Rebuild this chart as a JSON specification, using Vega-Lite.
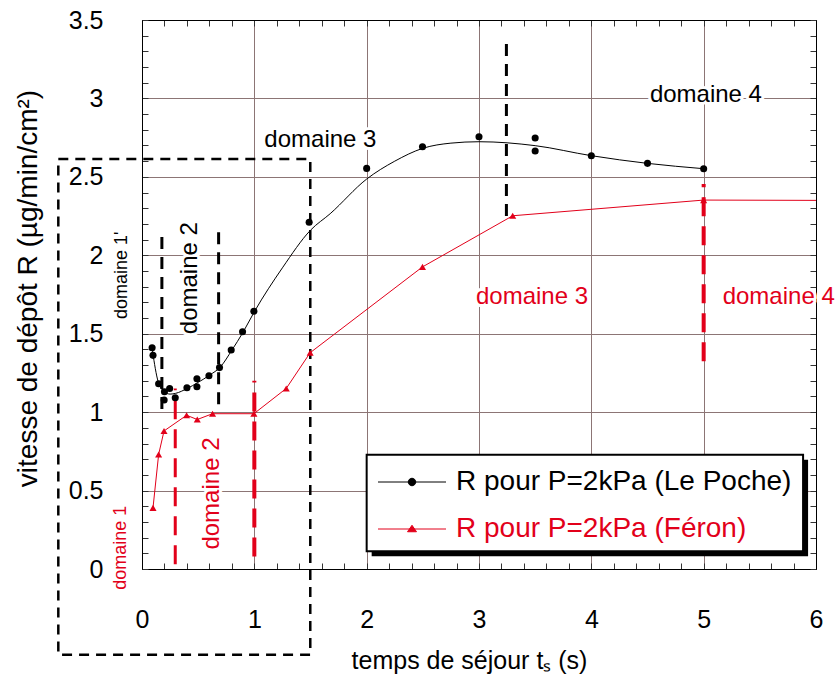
{
  "$schema": "https://vega.github.io/schema/vega-lite/v6.json",
  "width": 674,
  "height": 549,
  "autosize": "none",
  "padding": {"left": 142, "top": 20, "right": 20, "bottom": 115},
  "background": "white",
  "config": {
    "font": "Liberation Sans",
    "view": {"stroke": "black", "strokeWidth": 1},
    "axis": {"labelFont": "Liberation Sans", "titleFont": "Liberation Sans", "titleFontWeight": "normal"}
  },
  "datasets": {
    "lepoche_points": [
      {"t": 0.09, "R": 1.41}, {"t": 0.098, "R": 1.362}, {"t": 0.148, "R": 1.181},
      {"t": 0.2, "R": 1.13}, {"t": 0.197, "R": 1.077}, {"t": 0.246, "R": 1.151},
      {"t": 0.296, "R": 1.092}, {"t": 0.4, "R": 1.156}, {"t": 0.489, "R": 1.213},
      {"t": 0.489, "R": 1.162}, {"t": 0.596, "R": 1.232}, {"t": 0.69, "R": 1.284},
      {"t": 0.794, "R": 1.396}, {"t": 0.895, "R": 1.513}, {"t": 0.996, "R": 1.643},
      {"t": 1.488, "R": 2.211}, {"t": 2.0, "R": 2.554}, {"t": 2.497, "R": 2.692},
      {"t": 3.0, "R": 2.756}, {"t": 3.5, "R": 2.748}, {"t": 3.5, "R": 2.665},
      {"t": 4.0, "R": 2.635}, {"t": 4.5, "R": 2.586}, {"t": 5.0, "R": 2.552}
    ],
    "lepoche_courbe": [
      {"t": 0.09, "R": 1.41, "serie": "R pour P=2kPa (Le Poche)"},
      {"t": 0.1, "R": 1.36, "serie": "R pour P=2kPa (Le Poche)"},
      {"t": 0.15, "R": 1.18, "serie": "R pour P=2kPa (Le Poche)"},
      {"t": 0.2, "R": 1.13, "serie": "R pour P=2kPa (Le Poche)"},
      {"t": 0.25, "R": 1.115, "serie": "R pour P=2kPa (Le Poche)"},
      {"t": 0.3, "R": 1.12, "serie": "R pour P=2kPa (Le Poche)"},
      {"t": 0.4, "R": 1.15, "serie": "R pour P=2kPa (Le Poche)"},
      {"t": 0.5, "R": 1.19, "serie": "R pour P=2kPa (Le Poche)"},
      {"t": 0.6, "R": 1.235, "serie": "R pour P=2kPa (Le Poche)"},
      {"t": 0.7, "R": 1.29, "serie": "R pour P=2kPa (Le Poche)"},
      {"t": 0.8, "R": 1.395, "serie": "R pour P=2kPa (Le Poche)"},
      {"t": 0.9, "R": 1.51, "serie": "R pour P=2kPa (Le Poche)"},
      {"t": 1.0, "R": 1.64, "serie": "R pour P=2kPa (Le Poche)"},
      {"t": 1.25, "R": 1.92, "serie": "R pour P=2kPa (Le Poche)"},
      {"t": 1.5, "R": 2.16, "serie": "R pour P=2kPa (Le Poche)"},
      {"t": 1.675, "R": 2.265, "serie": "R pour P=2kPa (Le Poche)"},
      {"t": 2.0, "R": 2.486, "serie": "R pour P=2kPa (Le Poche)"},
      {"t": 2.25, "R": 2.6, "serie": "R pour P=2kPa (Le Poche)"},
      {"t": 2.5, "R": 2.682, "serie": "R pour P=2kPa (Le Poche)"},
      {"t": 2.75, "R": 2.715, "serie": "R pour P=2kPa (Le Poche)"},
      {"t": 3.0, "R": 2.724, "serie": "R pour P=2kPa (Le Poche)"},
      {"t": 3.5, "R": 2.699, "serie": "R pour P=2kPa (Le Poche)"},
      {"t": 4.0, "R": 2.635, "serie": "R pour P=2kPa (Le Poche)"},
      {"t": 4.5, "R": 2.586, "serie": "R pour P=2kPa (Le Poche)"},
      {"t": 5.0, "R": 2.552, "serie": "R pour P=2kPa (Le Poche)"}
    ],
    "feron_points": [
      {"t": 0.098, "R": 0.39}, {"t": 0.148, "R": 0.73}, {"t": 0.196, "R": 0.88},
      {"t": 0.397, "R": 0.98}, {"t": 0.492, "R": 0.953}, {"t": 0.628, "R": 0.99},
      {"t": 0.996, "R": 0.99}, {"t": 1.284, "R": 1.151}, {"t": 1.497, "R": 1.379},
      {"t": 2.497, "R": 1.926}, {"t": 3.3, "R": 2.252}, {"t": 5.0, "R": 2.352}
    ],
    "feron_ligne": [
      {"t": 0.098, "R": 0.39, "serie": "R pour P=2kPa (Féron)"},
      {"t": 0.148, "R": 0.73, "serie": "R pour P=2kPa (Féron)"},
      {"t": 0.196, "R": 0.88, "serie": "R pour P=2kPa (Féron)"},
      {"t": 0.397, "R": 0.98, "serie": "R pour P=2kPa (Féron)"},
      {"t": 0.492, "R": 0.953, "serie": "R pour P=2kPa (Féron)"},
      {"t": 0.628, "R": 0.99, "serie": "R pour P=2kPa (Féron)"},
      {"t": 0.996, "R": 0.99, "serie": "R pour P=2kPa (Féron)"},
      {"t": 1.284, "R": 1.151, "serie": "R pour P=2kPa (Féron)"},
      {"t": 1.497, "R": 1.379, "serie": "R pour P=2kPa (Féron)"},
      {"t": 2.497, "R": 1.926, "serie": "R pour P=2kPa (Féron)"},
      {"t": 3.3, "R": 2.252, "serie": "R pour P=2kPa (Féron)"},
      {"t": 5.0, "R": 2.352, "serie": "R pour P=2kPa (Féron)"},
      {"t": 6.0, "R": 2.35, "serie": "R pour P=2kPa (Féron)"}
    ],
    "limites_lepoche": [
      {"t": 0.177, "R1": 1.02, "R2": 2.14},
      {"t": 0.682, "R1": 1.05, "R2": 2.17},
      {"t": 3.244, "R1": 2.25, "R2": 3.38}
    ],
    "limites_feron": [
      {"t": 0.296, "R1": 0.03, "R2": 1.15},
      {"t": 1.0, "R1": 0.08, "R2": 1.2},
      {"t": 5.0, "R1": 1.325, "R2": 2.454}
    ],
    "cadre": [{"t1": -0.745, "t2": 1.498, "R1": -0.547, "R2": 2.614}],
    "boite_legende": [{"t1": 2.0, "t2": 5.885, "R1": 0.113, "R2": 0.729}],
    "annotations": [
      {"label": "domaine 1'", "t": -0.178, "R": 1.873, "serie": "Le Poche"},
      {"label": "domaine 2", "t": 0.43, "R": 1.854, "serie": "Le Poche"},
      {"label": "domaine 3", "t": 1.588, "R": 2.735, "serie": "Le Poche"},
      {"label": "domaine 4", "t": 5.02, "R": 3.022, "serie": "Le Poche"},
      {"label": "domaine 1", "t": -0.183, "R": 0.136, "serie": "Féron"},
      {"label": "domaine 2", "t": 0.621, "R": 0.481, "serie": "Féron"},
      {"label": "domaine 3", "t": 3.472, "R": 1.733, "serie": "Féron"},
      {"label": "domaine 4", "t": 5.668, "R": 1.733, "serie": "Féron"}
    ]
  },
  "resolve": {"axis": {"x": "independent", "y": "independent"}},
  "layer": [
    {
      "data": {"name": "cadre"},
      "mark": {"type": "rect", "filled": false, "stroke": "black", "strokeWidth": 2.5, "strokeDash": [10, 7]},
      "encoding": {
        "x": {
          "field": "t1", "type": "quantitative",
          "scale": {"domain": [0, 6], "nice": false, "zero": false},
          "axis": {
            "orient": "bottom",
            "title": "temps de séjour tₛ (s)",
            "titleFontSize": 25,
            "titleX": 327, "titleY": 91, "titleAlign": "center", "titleBaseline": "middle",
            "values": [0, 0.2, 0.4, 0.6, 0.8, 1, 1.2, 1.4, 1.6, 1.8, 2, 2.2, 2.4, 2.6, 2.8, 3, 3.2, 3.4, 3.6, 3.8, 4, 4.2, 4.4, 4.6, 4.8, 5, 5.2, 5.4, 5.6, 5.8, 6],
            "labelExpr": "abs(datum.value - round(datum.value)) < 0.001 ? '' + round(datum.value) : ''",
            "labelFontSize": 25, "labelColor": "black", "labelPadding": 44, "labelBaseline": "top",
            "labelOverlap": false, "labelFlush": false, "labelBound": false,
            "tickSize": -6, "tickColor": "#333333", "tickWidth": 1,
            "domainColor": "black", "domainWidth": 1,
            "grid": true, "gridColor": "#8c7575", "gridWidth": 1,
            "gridOpacity": {"condition": {"test": "abs(datum.value - round(datum.value)) < 0.001", "value": 1}, "value": 0}
          }
        },
        "x2": {"field": "t2"},
        "y": {
          "field": "R1", "type": "quantitative",
          "scale": {"domain": [0, 3.5], "nice": false, "zero": false},
          "axis": {
            "orient": "left",
            "title": "vitesse de dépôt R (µg/min/cm²)",
            "titleFontSize": 28,
            "titleX": -114, "titleY": 268, "titleAlign": "center", "titleBaseline": "middle", "titleAngle": -90,
            "values": [0, 0.1, 0.2, 0.3, 0.4, 0.5, 0.6, 0.7, 0.8, 0.9, 1, 1.1, 1.2, 1.3, 1.4, 1.5, 1.6, 1.7, 1.8, 1.9, 2, 2.1, 2.2, 2.3, 2.4, 2.5, 2.6, 2.7, 2.8, 2.9, 3, 3.1, 3.2, 3.3, 3.4, 3.5],
            "labelExpr": "abs(datum.value * 10 % 5) < 0.01 || abs(datum.value * 10 % 5) > 4.99 ? '' + round(datum.value * 10) / 10 : ''",
            "labelFontSize": 25, "labelColor": "black", "labelPadding": 45,
            "labelOverlap": false, "labelFlush": false, "labelBound": false,
            "tickSize": -6, "tickColor": "#333333", "tickWidth": 1,
            "domainColor": "black", "domainWidth": 1,
            "grid": true, "gridColor": "#8c7575", "gridWidth": 1,
            "gridOpacity": {"condition": {"test": "abs(datum.value * 10 % 5) < 0.01 || abs(datum.value * 10 % 5) > 4.99", "value": 1}, "value": 0}
          }
        },
        "y2": {"field": "R2"}
      }
    },
    {
      "data": {"name": "limites_lepoche"},
      "mark": {"type": "rule", "color": "black", "strokeWidth": 3, "strokeDash": [12, 8]},
      "encoding": {
        "x": {
          "field": "t", "type": "quantitative",
          "axis": {
            "orient": "top", "title": null, "labels": false, "grid": false,
            "values": [0, 0.2, 0.4, 0.6, 0.8, 1, 1.2, 1.4, 1.6, 1.8, 2, 2.2, 2.4, 2.6, 2.8, 3, 3.2, 3.4, 3.6, 3.8, 4, 4.2, 4.4, 4.6, 4.8, 5, 5.2, 5.4, 5.6, 5.8, 6],
            "tickSize": -6, "tickColor": "#333333", "domainColor": "black"
          }
        },
        "y": {
          "field": "R1", "type": "quantitative",
          "axis": {
            "orient": "right", "title": null, "labels": false, "grid": false,
            "values": [0, 0.1, 0.2, 0.3, 0.4, 0.5, 0.6, 0.7, 0.8, 0.9, 1, 1.1, 1.2, 1.3, 1.4, 1.5, 1.6, 1.7, 1.8, 1.9, 2, 2.1, 2.2, 2.3, 2.4, 2.5, 2.6, 2.7, 2.8, 2.9, 3, 3.1, 3.2, 3.3, 3.4, 3.5],
            "tickSize": -6, "tickColor": "#333333", "domainColor": "black"
          }
        },
        "y2": {"field": "R2"}
      }
    },
    {
      "data": {"name": "limites_feron"},
      "mark": {"type": "rule", "color": "#e2001a", "strokeDash": [19, 10]},
      "encoding": {
        "x": {"field": "t", "type": "quantitative", "axis": null},
        "y": {"field": "R1", "type": "quantitative", "axis": null},
        "y2": {"field": "R2"},
        "strokeWidth": {"condition": {"test": "datum.t < 0.5", "value": 3}, "value": 4}
      }
    },
    {
      "data": {"name": "lepoche_courbe"},
      "mark": {"type": "line", "strokeWidth": 1, "interpolate": "monotone"},
      "encoding": {
        "x": {"field": "t", "type": "quantitative", "axis": null},
        "y": {"field": "R", "type": "quantitative", "axis": null},
        "color": {
          "field": "serie", "type": "nominal",
          "scale": {"domain": ["R pour P=2kPa (Le Poche)", "R pour P=2kPa (Féron)"], "range": ["black", "#e2001a"]},
          "legend": {
            "title": null,
            "orient": "none", "legendX": 223, "legendY": 435,
            "labelFont": "Liberation Sans", "labelFontSize": 28, "labelLimit": 0,
            "labelColor": {"expr": "datum.value == 'R pour P=2kPa (Féron)' ? '#e2001a' : 'black'"},
            "padding": 13, "rowPadding": 19,
            "symbolSize": 100, "symbolOffset": 20, "labelOffset": 30,
            "symbolStrokeWidth": 1,
            "symbolType": {"expr": "datum.value == 'R pour P=2kPa (Féron)' ? 'M-6.8,0H6.8M0,-0.75L0.9,0.55L-0.9,0.55Z M0,-0.4L0.5,0.35L-0.5,0.35Z' : 'M-6.8,0H6.8M0.75,0A0.75,0.75 0 1,1 -0.75,0A0.75,0.75 0 1,1 0.75,0Z M0.45,0A0.45,0.45 0 1,1 -0.45,0A0.45,0.45 0 1,1 0.45,0Z M0.15,0A0.15,0.15 0 1,1 -0.15,0A0.15,0.15 0 1,1 0.15,0Z'"},
            "symbolFillColor": {"expr": "datum.value == 'R pour P=2kPa (Féron)' ? '#e2001a' : 'black'"}
          }
        }
      }
    },
    {
      "data": {"name": "feron_ligne"},
      "mark": {"type": "line", "strokeWidth": 1},
      "encoding": {
        "x": {"field": "t", "type": "quantitative", "axis": null},
        "y": {"field": "R", "type": "quantitative", "axis": null},
        "color": {"field": "serie", "type": "nominal"}
      }
    },
    {
      "data": {"name": "lepoche_points"},
      "mark": {"type": "point", "shape": "circle", "filled": true, "color": "black", "size": 50, "opacity": 1},
      "encoding": {
        "x": {"field": "t", "type": "quantitative", "axis": null},
        "y": {"field": "R", "type": "quantitative", "axis": null}
      }
    },
    {
      "data": {"name": "feron_points"},
      "mark": {"type": "point", "shape": "triangle-up", "filled": true, "color": "#e2001a", "size": 50, "opacity": 1},
      "encoding": {
        "x": {"field": "t", "type": "quantitative", "axis": null},
        "y": {"field": "R", "type": "quantitative", "axis": null}
      }
    },
    {
      "data": {"name": "annotations"},
      "mark": {"type": "text", "align": "center", "baseline": "middle", "font": "Liberation Sans", "stroke": "white", "strokeWidth": 6, "strokeJoin": "round", "fill": "white"},
      "encoding": {
        "x": {"field": "t", "type": "quantitative", "axis": null},
        "y": {"field": "R", "type": "quantitative", "axis": null},
        "text": {"field": "label"},
        "size": {"condition": {"test": "indexof(datum.label, 'domaine 1') >= 0", "value": 18}, "value": 24},
        "angle": {"condition": {"test": "indexof(datum.label, 'domaine 1') >= 0 || datum.label == 'domaine 2'", "value": 270}, "value": 0}
      }
    },
    {
      "data": {"name": "annotations"},
      "mark": {"type": "text", "align": "center", "baseline": "middle", "font": "Liberation Sans"},
      "encoding": {
        "x": {"field": "t", "type": "quantitative", "axis": null},
        "y": {"field": "R", "type": "quantitative", "axis": null},
        "text": {"field": "label"},
        "color": {"condition": {"test": "datum.serie == 'Féron'", "value": "#e2001a"}, "value": "black"},
        "size": {"condition": {"test": "indexof(datum.label, 'domaine 1') >= 0", "value": 18}, "value": 24},
        "angle": {"condition": {"test": "indexof(datum.label, 'domaine 1') >= 0 || datum.label == 'domaine 2'", "value": 270}, "value": 0}
      }
    },
    {
      "data": {"name": "boite_legende"},
      "mark": {"type": "rect", "fill": "black", "xOffset": 5, "x2Offset": 5, "yOffset": 5, "y2Offset": 5},
      "encoding": {
        "x": {"field": "t1", "type": "quantitative", "axis": null},
        "x2": {"field": "t2"},
        "y": {"field": "R1", "type": "quantitative", "axis": null},
        "y2": {"field": "R2"}
      }
    },
    {
      "data": {"name": "boite_legende"},
      "mark": {"type": "rect", "fill": "white", "stroke": "black", "strokeWidth": 2},
      "encoding": {
        "x": {"field": "t1", "type": "quantitative", "axis": null},
        "x2": {"field": "t2"},
        "y": {"field": "R1", "type": "quantitative", "axis": null},
        "y2": {"field": "R2"}
      }
    }
  ]
}
